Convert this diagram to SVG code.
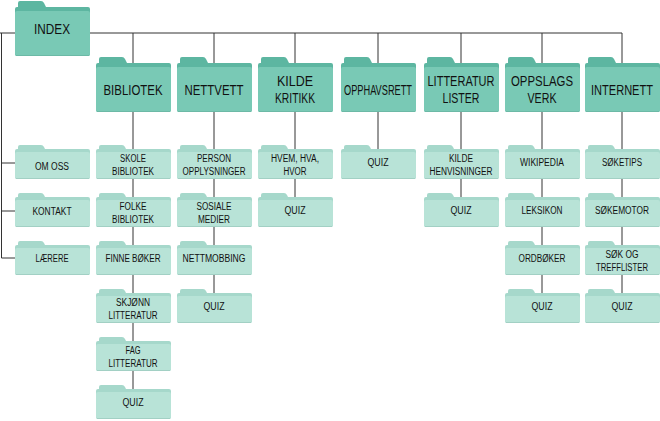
<svg xmlns="http://www.w3.org/2000/svg" xmlns:xlink="http://www.w3.org/1999/xlink" width="660" height="421" viewBox="0 0 660 421">
<style>
.ln{stroke:#333;stroke-width:1;fill:none}
.bt{font-family:"Liberation Sans",Arial,sans-serif;font-size:14px;fill:#111;text-anchor:middle}
.st{font-family:"Liberation Sans",Arial,sans-serif;font-size:10px;fill:#111;text-anchor:middle}
</style>
<defs>
<g id="big">
<path d="M5,0 L26,0 Q28,0 29,2 L31,6 L73,6 Q75,6 75,8 L75,53 Q75,55 73,55 L2,55 Q0,55 0,53 L0,8 Q0,6 2,6 L3,6 L3,2 Q3,0 5,0 Z" fill="#5db6a1"/>
<path d="M2,10 L73,10 Q75,10 75,12 L75,53 Q75,55 73,55 L2,55 Q0,55 0,53 L0,12 Q0,10 2,10 Z" fill="#79c9b5"/>
<rect x="1" y="54" width="73" height="1" fill="#6cb9a6"/>
</g>
<g id="sm">
<path d="M5,0 L26,0 Q28,0 29,2 L30,4 L73,4 Q75,4 75,6 L75,32 Q75,34 73,34 L2,34 Q0,34 0,32 L0,6 Q0,4 2,4 L3,4 L3,2 Q3,0 5,0 Z" fill="#a6d8cb"/>
<path d="M2,7 L73,7 Q75,7 75,9 L75,32 Q75,34 73,34 L2,34 Q0,34 0,32 L0,9 Q0,7 2,7 Z" fill="#b8e3d7"/>
<rect x="1" y="33" width="73" height="1" fill="#a2d0c4"/>
</g>
</defs>
<g id="connectors">
<path class="ln" d="M0,33 H622"/>
<path class="ln" d="M1.5,33 V258 M1.5,163 H15 M1.5,211 H15 M1.5,258 H15"/>
<path class="ln" d="M133,33 V390"/>
<path class="ln" d="M214,33 V294"/>
<path class="ln" d="M295,33 V198"/>
<path class="ln" d="M378,33 V150"/>
<path class="ln" d="M461,33 V198"/>
<path class="ln" d="M542,33 V294"/>
<path class="ln" d="M622,33 V294"/>
</g>
<g id="index"><use xlink:href="#big" x="15" y="1"/><text class="bt" x="52" y="34" textLength="36" lengthAdjust="spacingAndGlyphs">INDEX</text></g>
<g id="omoss"><use xlink:href="#sm" x="15" y="145"/><text class="st" x="52" y="170" textLength="34" lengthAdjust="spacingAndGlyphs">OM OSS</text></g>
<g id="kontakt"><use xlink:href="#sm" x="15" y="193"/><text class="st" x="52" y="215" textLength="39" lengthAdjust="spacingAndGlyphs">KONTAKT</text></g>
<g id="larere"><use xlink:href="#sm" x="15" y="241"/><text class="st" x="52" y="262" textLength="33" lengthAdjust="spacingAndGlyphs">LÆRERE</text></g>

<g id="bibliotek"><use xlink:href="#big" x="96" y="57"/><text class="bt" x="133" y="95" textLength="59" lengthAdjust="spacingAndGlyphs">BIBLIOTEK</text></g>
<g id="skole"><use xlink:href="#sm" x="96" y="145"/><text class="st" x="133" y="161.5" textLength="26" lengthAdjust="spacingAndGlyphs">SKOLE</text><text class="st" x="133" y="174.5" textLength="42" lengthAdjust="spacingAndGlyphs">BIBLIOTEK</text></g>
<g id="folke"><use xlink:href="#sm" x="96" y="193"/><text class="st" x="133" y="209.5" textLength="27" lengthAdjust="spacingAndGlyphs">FOLKE</text><text class="st" x="133" y="222.5" textLength="42" lengthAdjust="spacingAndGlyphs">BIBLIOTEK</text></g>
<g id="finne"><use xlink:href="#sm" x="96" y="241"/><text class="st" x="133" y="262" textLength="55" lengthAdjust="spacingAndGlyphs">FINNE BØKER</text></g>
<g id="skjonn"><use xlink:href="#sm" x="96" y="289"/><text class="st" x="133" y="305.5" textLength="34" lengthAdjust="spacingAndGlyphs">SKJØNN</text><text class="st" x="133" y="318.5" textLength="49" lengthAdjust="spacingAndGlyphs">LITTERATUR</text></g>
<g id="fag"><use xlink:href="#sm" x="96" y="337"/><text class="st" x="133" y="353.5" textLength="15" lengthAdjust="spacingAndGlyphs">FAG</text><text class="st" x="133" y="366.5" textLength="49" lengthAdjust="spacingAndGlyphs">LITTERATUR</text></g>
<g id="quiz1"><use xlink:href="#sm" x="96" y="385"/><text class="st" x="133" y="406" textLength="21" lengthAdjust="spacingAndGlyphs">QUIZ</text></g>

<g id="nettvett"><use xlink:href="#big" x="177" y="57"/><text class="bt" x="214" y="95" textLength="59" lengthAdjust="spacingAndGlyphs">NETTVETT</text></g>
<g id="person"><use xlink:href="#sm" x="177" y="145"/><text class="st" x="214" y="161.5" textLength="34" lengthAdjust="spacingAndGlyphs">PERSON</text><text class="st" x="214" y="174.5" textLength="63" lengthAdjust="spacingAndGlyphs">OPPLYSNINGER</text></g>
<g id="sosiale"><use xlink:href="#sm" x="177" y="193"/><text class="st" x="214" y="209.5" textLength="35" lengthAdjust="spacingAndGlyphs">SOSIALE</text><text class="st" x="214" y="222.5" textLength="32" lengthAdjust="spacingAndGlyphs">MEDIER</text></g>
<g id="nettmobbing"><use xlink:href="#sm" x="177" y="241"/><text class="st" x="214" y="262" textLength="63" lengthAdjust="spacingAndGlyphs">NETTMOBBING</text></g>
<g id="quiz2"><use xlink:href="#sm" x="177" y="289"/><text class="st" x="214" y="310" textLength="21" lengthAdjust="spacingAndGlyphs">QUIZ</text></g>

<g id="kildekritikk"><use xlink:href="#big" x="258" y="57"/><text class="bt" x="295" y="86" textLength="36" lengthAdjust="spacingAndGlyphs">KILDE</text><text class="bt" x="295" y="103" textLength="40" lengthAdjust="spacingAndGlyphs">KRITIKK</text></g>
<g id="hvem"><use xlink:href="#sm" x="258" y="145"/><text class="st" x="295" y="161.5" textLength="48" lengthAdjust="spacingAndGlyphs">HVEM, HVA,</text><text class="st" x="295" y="174.5" textLength="23" lengthAdjust="spacingAndGlyphs">HVOR</text></g>
<g id="quiz3"><use xlink:href="#sm" x="258" y="193"/><text class="st" x="295" y="214" textLength="21" lengthAdjust="spacingAndGlyphs">QUIZ</text></g>

<g id="opphavsrett"><use xlink:href="#big" x="341" y="57"/><text class="bt" x="378" y="95" textLength="68" lengthAdjust="spacingAndGlyphs">OPPHAVSRETT</text></g>
<g id="quiz4"><use xlink:href="#sm" x="341" y="145"/><text class="st" x="378" y="166" textLength="21" lengthAdjust="spacingAndGlyphs">QUIZ</text></g>

<g id="litteraturlister"><use xlink:href="#big" x="424" y="57"/><text class="bt" x="461" y="86" textLength="67" lengthAdjust="spacingAndGlyphs">LITTERATUR</text><text class="bt" x="461" y="103" textLength="37" lengthAdjust="spacingAndGlyphs">LISTER</text></g>
<g id="kildehenv"><use xlink:href="#sm" x="424" y="145"/><text class="st" x="461" y="161.5" textLength="24" lengthAdjust="spacingAndGlyphs">KILDE</text><text class="st" x="461" y="174.5" textLength="63" lengthAdjust="spacingAndGlyphs">HENVISNINGER</text></g>
<g id="quiz5"><use xlink:href="#sm" x="424" y="193"/><text class="st" x="461" y="214" textLength="21" lengthAdjust="spacingAndGlyphs">QUIZ</text></g>

<g id="oppslagsverk"><use xlink:href="#big" x="505" y="57"/><text class="bt" x="542" y="86" textLength="62" lengthAdjust="spacingAndGlyphs">OPPSLAGS</text><text class="bt" x="542" y="103" textLength="29" lengthAdjust="spacingAndGlyphs">VERK</text></g>
<g id="wikipedia"><use xlink:href="#sm" x="505" y="145"/><text class="st" x="542" y="166" textLength="44" lengthAdjust="spacingAndGlyphs">WIKIPEDIA</text></g>
<g id="leksikon"><use xlink:href="#sm" x="505" y="193"/><text class="st" x="542" y="214" textLength="41" lengthAdjust="spacingAndGlyphs">LEKSIKON</text></g>
<g id="ordboker"><use xlink:href="#sm" x="505" y="241"/><text class="st" x="542" y="262" textLength="47" lengthAdjust="spacingAndGlyphs">ORDBØKER</text></g>
<g id="quiz6"><use xlink:href="#sm" x="505" y="289"/><text class="st" x="542" y="310" textLength="21" lengthAdjust="spacingAndGlyphs">QUIZ</text></g>

<g id="internett"><use xlink:href="#big" x="585" y="57"/><text class="bt" x="622" y="95" textLength="62" lengthAdjust="spacingAndGlyphs">INTERNETT</text></g>
<g id="soketips"><use xlink:href="#sm" x="585" y="145"/><text class="st" x="622" y="166" textLength="40" lengthAdjust="spacingAndGlyphs">SØKETIPS</text></g>
<g id="sokemotor"><use xlink:href="#sm" x="585" y="193"/><text class="st" x="622" y="214" textLength="54" lengthAdjust="spacingAndGlyphs">SØKEMOTOR</text></g>
<g id="sokog"><use xlink:href="#sm" x="585" y="241"/><text class="st" x="622" y="257.5" textLength="33" lengthAdjust="spacingAndGlyphs">SØK OG</text><text class="st" x="622" y="270.5" textLength="52" lengthAdjust="spacingAndGlyphs">TREFFLISTER</text></g>
<g id="quiz7"><use xlink:href="#sm" x="585" y="289"/><text class="st" x="622" y="310" textLength="21" lengthAdjust="spacingAndGlyphs">QUIZ</text></g>
</svg>
